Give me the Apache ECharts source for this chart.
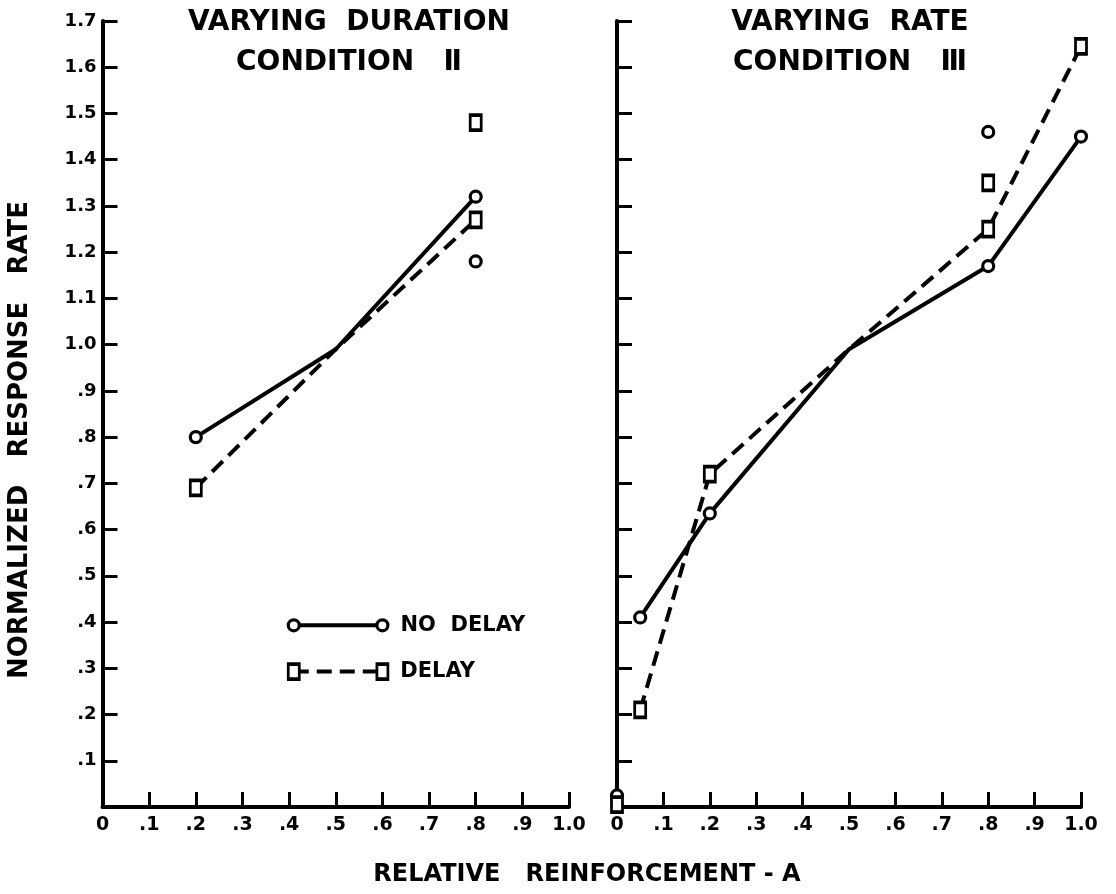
<!DOCTYPE html>
<html>
<head>
<meta charset="utf-8">
<script src="https://cdn.jsdelivr.net/npm/echarts@6/dist/echarts.min.js"></script>
<style>
html,body{margin:0;padding:0;background:#fff;}
#chart{width:1116px;height:894px;}
</style>
</head>
<body>
<div id="chart"></div>
<script>
// ---- tick labels ----
const xTickLabels = ['0', '.1', '.2', '.3', '.4', '.5', '.6', '.7', '.8', '.9', '1.0'];
const yTickLabels = ['', '.1', '.2', '.3', '.4', '.5', '.6', '.7', '.8', '.9',
                     '1.0', '1.1', '1.2', '1.3', '1.4', '1.5', '1.6', '1.7'];

// ---- panel titles / axis names ----
const leftTitle = 'VARYING  DURATION\nCONDITION   Ⅱ';
const rightTitle = 'VARYING  RATE\nCONDITION   Ⅲ';
const yAxisName = 'NORMALIZED   RESPONSE   RATE';
const xAxisName = 'RELATIVE   REINFORCEMENT - A';

// ---- Condition II (varying duration) ----
const leftNoDelay = [[0.2, 0.80], [0.5, 0.99], [0.8, 1.32]];
const leftDelay = [[0.2, 0.69], [0.5, 0.99], [0.8, 1.27]];
const leftMarked = [true, false, true];
const leftExtraNoDelay = [[0.8, 1.18]];
const leftExtraDelay = [[0.8, 1.48]];

// ---- Condition III (varying rate) ----
const rightNoDelay = [[0.05, 0.41], [0.2, 0.635], [0.5, 0.99], [0.8, 1.17], [1.0, 1.45]];
const rightDelay = [[0.05, 0.21], [0.2, 0.72], [0.5, 0.99], [0.8, 1.25], [1.0, 1.645]];
const rightMarked = [true, true, false, true, true];
const rightExtraNoDelay = [[0.8, 1.46], [0, 0.025]];
const rightExtraDelay = [[0.8, 1.35], [0, 0.005]];

// ---- legend key (drawn in left panel data space) ----
const legendKeyX = [0.41, 0.60];
const legendNoDelayY = 0.393;
const legendDelayY = 0.293;
const legendLabels = ['NO  DELAY', 'DELAY'];

const FONT = '"DejaVu Sans", "Liberation Sans", Arial, sans-serif';
const BLACK = '#000';

function xAxisDef(idx) {
  return {
    type: 'value', gridIndex: idx, min: 0, max: 1, interval: 0.1,
    axisLine: { show: true, lineStyle: { color: BLACK, width: 4 } },
    axisTick: { show: true, inside: true, length: 15, lineStyle: { color: BLACK, width: 3 } },
    axisLabel: {
      show: true, margin: 9, color: BLACK, fontFamily: FONT, fontWeight: 'bold', fontSize: 19,
      formatter: v => xTickLabels[Math.round(v * 10)]
    },
    splitLine: { show: false }
  };
}
function yAxisDef(idx, showLabels) {
  return {
    type: 'value', gridIndex: idx, min: 0, max: 1.7, interval: 0.1,
    axisLine: { show: true, onZero: false, lineStyle: { color: BLACK, width: 4 } },
    axisTick: { show: true, inside: true, length: 15, lineStyle: { color: BLACK, width: 3 } },
    axisLabel: {
      show: showLabels, margin: 6, color: BLACK, fontFamily: FONT, fontWeight: 'bold', fontSize: 18,
      formatter: v => yTickLabels[Math.round(v * 10)]
    },
    splitLine: { show: false }
  };
}

function lineSeries(idx, data, dashed) {
  return {
    type: 'line', xAxisIndex: idx, yAxisIndex: idx, data: data,
    symbol: 'none', showSymbol: false, silent: true, animation: false, z: 3,
    lineStyle: { color: BLACK, width: 4, type: dashed ? [15, 8] : 'solid' }
  };
}
function markerSeries(idx, data, shape) {
  return {
    type: 'scatter', xAxisIndex: idx, yAxisIndex: idx, data: data,
    symbol: shape === 'circle' ? 'circle' : 'rect',
    symbolSize: shape === 'circle' ? 11 : [11, 15],
    clip: false, silent: true, animation: false, z: 5,
    itemStyle: { color: '#fff', borderColor: BLACK, borderWidth: 3.2, opacity: 1 }
  };
}
function marked(data, flags) { return data.filter((d, i) => flags[i]); }

function legendMarkers(y, shape, label) {
  const pts = legendKeyX.map(x => [x, y]);
  return markerSeries(0, pts.map((p, i) => i === pts.length - 1 ? {
    value: p,
    label: {
      show: true, position: 'right', distance: 11, formatter: label,
      color: BLACK, fontFamily: FONT, fontWeight: 'bold', fontSize: 21
    }
  } : { value: p }), shape);
}

const series = [
  lineSeries(0, leftNoDelay, false),
  lineSeries(0, leftDelay, true),
  markerSeries(0, marked(leftNoDelay, leftMarked).concat(leftExtraNoDelay), 'circle'),
  markerSeries(0, marked(leftDelay, leftMarked).concat(leftExtraDelay), 'rect'),
  lineSeries(1, rightNoDelay, false),
  lineSeries(1, rightDelay, true),
  markerSeries(1, marked(rightNoDelay, rightMarked).concat(rightExtraNoDelay), 'circle'),
  markerSeries(1, marked(rightDelay, rightMarked).concat(rightExtraDelay), 'rect'),
  // legend key
  lineSeries(0, legendKeyX.map(x => [x, legendNoDelayY]), false),
  lineSeries(0, legendKeyX.map(x => [x, legendDelayY]), true),
  legendMarkers(legendNoDelayY, 'circle', legendLabels[0]),
  legendMarkers(legendDelayY, 'rect', legendLabels[1])
];

const titleStyle = { color: BLACK, fontFamily: FONT, fontWeight: 'bold', fontSize: 28, lineHeight: 40 };

const option = {
  backgroundColor: '#fff',
  animation: false,
  title: [
    { text: leftTitle, left: 344, top: -2, textAlign: 'center', textStyle: titleStyle },
    { text: rightTitle, left: 845, top: -2, textAlign: 'center', textStyle: titleStyle }
  ],
  grid: [
    { left: 102.5, right: 547, top: 21, bottom: 87 },
    { left: 617, right: 35, top: 21, bottom: 87 }
  ],
  xAxis: [xAxisDef(0), xAxisDef(1)],
  yAxis: [yAxisDef(0, true), yAxisDef(1, false)],
  series: series,
  graphic: [
    {
      type: 'text', x: 20, y: 440, rotation: Math.PI / 2,
      style: { text: yAxisName, fill: BLACK, font: 'bold 26px ' + FONT, textAlign: 'center', textVerticalAlign: 'middle' }
    },
    {
      type: 'text', x: 587, y: 875,
      style: { text: xAxisName, fill: BLACK, font: 'bold 24px ' + FONT, textAlign: 'center', textVerticalAlign: 'middle' }
    }
  ]
};

const chart = echarts.init(document.getElementById('chart'), null, { renderer: 'canvas' });
chart.setOption(option);
</script>
</body>
</html>
